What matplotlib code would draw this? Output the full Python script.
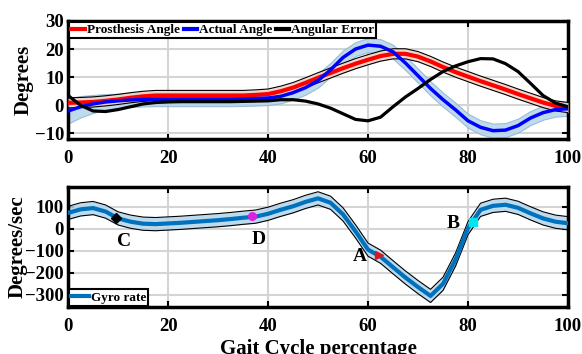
import numpy as np
import matplotlib
matplotlib.use("Agg")
import matplotlib.pyplot as plt

plt.rcParams["font.family"] = ["Liberation Serif", "DejaVu Serif"]
plt.rcParams["font.weight"] = "bold"

# gait cycle (%)
pct = np.arange(0, 100.1, 2.5)

# top panel: angles (degrees)
prosthesis_angle = [0.9, 1.0, 1.2, 1.6, 2.1, 2.7, 3.2, 3.5, 3.5, 3.5, 3.5, 3.5, 3.5, 3.5,
                    3.5, 3.7, 4.0, 5.0, 6.3, 8.0, 9.8, 11.5, 13.2, 14.8, 16.2, 17.5, 18.3,
                    18.3, 17.3, 15.6, 13.6, 11.8, 10.2, 8.6, 7.1, 5.6, 4.0, 2.5, 1.0, -0.2, -0.8]
actual_angle = [-2.0, -0.5, 0.5, 1.2, 1.6, 1.9, 2.1, 2.2, 2.2, 2.2, 2.2, 2.2, 2.2, 2.2,
                2.3, 2.4, 2.6, 3.2, 4.5, 6.3, 8.8, 12.6, 17.0, 20.0, 21.4, 21.0, 19.0,
                15.0, 10.5, 6.0, 2.0, -1.6, -5.5, -7.8, -9.0, -8.8, -7.2, -4.5, -2.6, -1.5, -1.2]
angular_error = [3.5, 0.0, -2.0, -2.2, -1.5, -0.5, 0.5, 1.0, 1.2, 1.3, 1.3, 1.3, 1.3, 1.3,
                 1.4, 1.5, 1.6, 2.0, 2.0, 1.5, 0.5, -1.0, -3.0, -5.0, -5.5, -4.2, -0.5,
                 3.0, 6.0, 9.2, 12.0, 14.0, 15.5, 16.6, 16.5, 14.8, 12.0, 7.8, 3.5, 0.8, -0.5]
prosthesis_sd = [1.8] * 41
actual_sd = [4.5, 3.8, 3.2, 2.8, 2.5] + [2.5] * 36

# bottom panel: gyro rate (deg/s)
gyro_rate = [72, 88, 94, 78, 47, 32, 23, 21, 24, 27, 31, 35, 39, 44, 50, 55, 68, 86, 102,
             122, 138, 118, 65, -12, -95, -127, -175, -222, -265, -305, -250, -140, 3, 86,
             104, 109, 95, 70, 47, 32, 25]
gyro_sd = [30] * 41

# gait event markers
event_names = ["A", "B", "C", "D"]
event_x = [62.2, 81.0, 9.5, 36.7]
event_y = [-118, 30, 47, 58]
event_marker = [">", "s", "D", "o"]
event_color = ["#d7191c", "#00e5ee", "black", "#e020e0"]
label_x = [58.3, 77.1, 11.1, 38.1]
label_y = [-126, 26, -58, -50]


def style_axes(ax):
	for s in ax.spines.values():
		s.set_linewidth(2.5)
	ax.grid(True, color="#d4d4d4", linewidth=1.5)
	ax.set_axisbelow(True)
	ax.tick_params(direction="in", length=4, width=1.5, top=True, right=True,
				   labelsize=13.5, pad=3)
	ax.tick_params(axis="x", pad=8)
	ax.set_xlim(0, 100)
	ax.set_xticks([0, 20, 40, 60, 80, 100])
	for lbl in ax.get_xticklabels() + ax.get_yticklabels():
		lbl.set_fontweight("bold")


fig = plt.figure(figsize=(5.82, 3.54), dpi=100)
ax1 = fig.add_axes([0.117, 0.607, 0.859, 0.334])
ax2 = fig.add_axes([0.117, 0.133, 0.859, 0.339])

p = np.array(prosthesis_angle)
a = np.array(actual_angle)
psd = np.array(prosthesis_sd)
asd = np.array(actual_sd)

ax1.fill_between(pct, a - asd, a + asd, color="#b3d5ec", alpha=0.85, linewidth=0.8,
				 edgecolor="#8fb5cf", zorder=2)
ax1.fill_between(pct, p - psd, p + psd, color="#f6d3c6", alpha=0.9, linewidth=0, zorder=3)
ax1.plot(pct, p - psd, color="black", linewidth=0.8, zorder=3)
ax1.plot(pct, p + psd, color="black", linewidth=0.8, zorder=3)
ax1.plot(pct, p, color="#ff0000", linewidth=3, label="Prosthesis Angle", zorder=4)
ax1.plot(pct, a, color="#0000ff", linewidth=2.5, label="Actual Angle", zorder=5)
ax1.plot(pct, angular_error, color="black", linewidth=2.3, label="Angular Error", zorder=6)

style_axes(ax1)
ax1.set_ylim(-12, 30)
ax1.set_yticks([-10, 0, 10, 20, 30])
ax1.set_ylabel("Degrees", fontsize=15, fontweight="bold", labelpad=1)
leg = ax1.legend(loc="upper left", ncol=3, fontsize=9.5, handlelength=1.0,
				 handletextpad=0.15, columnspacing=0.3, borderpad=0.15,
				 borderaxespad=0.1, fancybox=False, framealpha=1)
leg.get_frame().set_edgecolor("black")
leg.get_frame().set_linewidth(1.5)
for t in leg.get_texts():
	t.set_fontweight("bold")
for h in leg.get_lines():
	h.set_linewidth(3)

g = np.array(gyro_rate)
gsd = np.array(gyro_sd)
ax2.fill_between(pct, g - gsd, g + gsd, color="#b3d5ec", alpha=0.85, linewidth=0, zorder=2)
ax2.plot(pct, g - gsd, color="black", linewidth=0.8, zorder=3)
ax2.plot(pct, g + gsd, color="black", linewidth=0.8, zorder=3)
ax2.plot(pct, g, color="#0072BD", linewidth=3, label="Gyro rate", zorder=4)

for name, ex, ey, m, c, lx, ly in zip(event_names, event_x, event_y, event_marker,
									  event_color, label_x, label_y):
	ax2.plot(ex, ey, marker=m, color=c, markersize=5.5, linestyle="none", zorder=6)
	ax2.text(lx, ly, name, fontsize=14, fontweight="bold", ha="center", va="center", zorder=7)

style_axes(ax2)
ax2.set_ylim(-355, 190)
ax2.set_yticks([-300, -200, -100, 0, 100])
ax2.set_ylabel("Degrees/sec", fontsize=15, fontweight="bold", labelpad=-2)
ax2.set_xlabel("Gait Cycle percentage", fontsize=15, fontweight="bold", labelpad=3)
leg2 = ax2.legend(loc="lower left", fontsize=9.5, handlelength=1.3, handletextpad=0.15,
				  borderpad=0.15, borderaxespad=0.1, fancybox=False, framealpha=1)
leg2.get_frame().set_edgecolor("black")
leg2.get_frame().set_linewidth(1.5)
for t in leg2.get_texts():
	t.set_fontweight("bold")

fig.savefig("out.png", dpi=100)
